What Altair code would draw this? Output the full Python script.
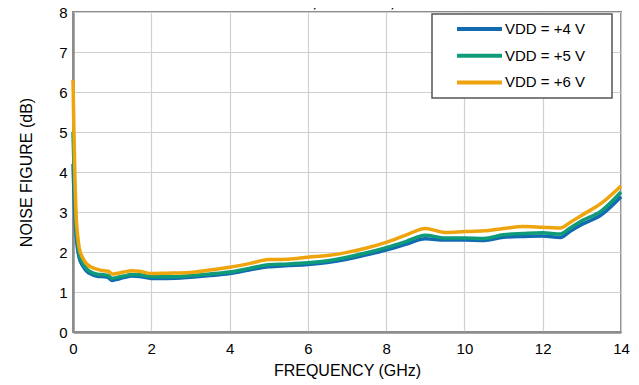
import altair as alt
import pandas as pd

freq = [0.0, 0.02, 0.05, 0.08, 0.12, 0.16, 0.25, 0.35, 0.5, 0.65, 0.8, 0.9, 1.0, 1.1, 1.3, 1.5, 1.7,
        2.0, 2.4, 3.0, 3.5, 4.0, 4.5, 5.0, 5.5, 6.0, 6.5, 7.0, 7.5, 8.0, 8.5, 9.0, 9.5, 10.0, 10.5,
        11.0, 11.5, 12.0, 12.45, 12.7, 13.0, 13.5, 14.0]
nf_4v = [4.2, 3.6, 2.9, 2.4, 2.05, 1.85, 1.65, 1.52, 1.43, 1.39, 1.38, 1.36, 1.29, 1.31, 1.36, 1.40, 1.39,
         1.34, 1.34, 1.37, 1.41, 1.46, 1.55, 1.63, 1.66, 1.69, 1.74, 1.82, 1.93, 2.05, 2.19, 2.33, 2.30, 2.30, 2.29,
         2.37, 2.39, 2.40, 2.36, 2.52, 2.69, 2.93, 3.38]
nf_5v = [5.0, 4.3, 3.3, 2.6, 2.2, 1.95, 1.72, 1.58, 1.48, 1.44, 1.43, 1.41, 1.34, 1.36, 1.40, 1.44, 1.43,
         1.38, 1.38, 1.41, 1.45, 1.50, 1.59, 1.68, 1.70, 1.73, 1.78, 1.87, 1.98, 2.11, 2.26, 2.42, 2.35, 2.35, 2.34,
         2.43, 2.46, 2.48, 2.45, 2.60, 2.78, 3.03, 3.50]
nf_6v = [6.3, 5.2, 3.8, 2.9, 2.4, 2.1, 1.85, 1.70, 1.61, 1.56, 1.53, 1.52, 1.45, 1.46, 1.50, 1.53, 1.52,
         1.46, 1.47, 1.49, 1.55, 1.62, 1.71, 1.81, 1.82, 1.87, 1.91, 1.99, 2.10, 2.24, 2.42, 2.59, 2.49, 2.51, 2.53,
         2.59, 2.64, 2.62, 2.60, 2.74, 2.92, 3.22, 3.65]

series_names = ["VDD = +4 V", "VDD = +5 V", "VDD = +6 V"]
series_colors = ["#126bb2", "#0e9b78", "#eea40c"]
title_text = "PIN = −20 dBm, VD = VDD, TEMP = 25°C"
x_ticks = [0, 2, 4, 6, 8, 10, 12, 14]
y_ticks = [0, 1, 2, 3, 4, 5, 6, 7, 8]

rows = []
for name, vals in zip(series_names, [nf_4v, nf_5v, nf_6v]):
    for f, v in zip(freq, vals):
        rows.append({"freq": f, "nf": v, "series": name})
df = pd.DataFrame(rows)

font = "Liberation Sans"
color_scale = alt.Scale(domain=series_names, range=series_colors)

lines = alt.Chart(df).mark_line(strokeWidth=3.5, interpolate="monotone").encode(
    x=alt.X("freq:Q", scale=alt.Scale(domain=[0, 14], nice=False),
            axis=alt.Axis(values=x_ticks, title="FREQUENCY (GHz)", format="d", labelFlush=False)),
    y=alt.Y("nf:Q", scale=alt.Scale(domain=[0, 8], nice=False),
            axis=alt.Axis(values=y_ticks, title="NOISE FIGURE (dB)", format="d")),
    color=alt.Color("series:N", scale=color_scale, legend=None),
)

# custom legend (box, line swatches, labels)
leg = pd.DataFrame({"series": series_names, "row": [0, 1, 2]})
row_y0, row_dy = 17, 26.7
leg["ypix"] = [row_y0 + i * row_dy for i in range(3)]

legend_box = alt.Chart(pd.DataFrame({"a": [0]})).mark_rect(
    fill="white", stroke="#555555", strokeWidth=1.5
).encode(x=alt.value(359), x2=alt.value(539), y=alt.value(2), y2=alt.value(86))

legend_lines = alt.Chart(leg).mark_rule(strokeWidth=4).encode(
    x=alt.value(384), x2=alt.value(429),
    y=alt.Y("ypix:Q", scale=None),
    color=alt.Color("series:N", scale=color_scale, legend=None),
)

legend_text = alt.Chart(leg).mark_text(
    font=font, fontSize=15, align="left", baseline="middle", color="#000", dx=0
).encode(x=alt.value(432), y=alt.Y("ypix:Q", scale=None), text="series:N")

title_mark = alt.Chart(pd.DataFrame({"t": [title_text]})).mark_text(
    font=font, fontSize=15, fontWeight="bold", baseline="alphabetic", align="center", color="#000"
).encode(x=alt.value(276), y=alt.value(-5), text="t:N")

chart = alt.layer(lines, legend_box, legend_lines, legend_text, title_mark).properties(
    width=548, height=320,
    autosize=alt.AutoSizeParams(type="none"),
    padding={"left": 65, "top": 4, "right": 10, "bottom": 52},
).configure_view(
    stroke="#8c8c8c", strokeWidth=2
).configure_axis(
    labelFont=font, titleFont=font, labelFontSize=15, titleFontSize=16,
    titleFontWeight="normal", labelColor="#000", titleColor="#000",
    gridColor="#d0d0d0", gridWidth=1.2, domainColor="#8c8c8c", domainWidth=2.5,
    ticks=False,
).configure_axisX(titlePadding=6, labelPadding=9).configure_axisY(titlePadding=24, labelPadding=6)

chart.save("out.html", embed_options={"renderer": "svg", "actions": False})
